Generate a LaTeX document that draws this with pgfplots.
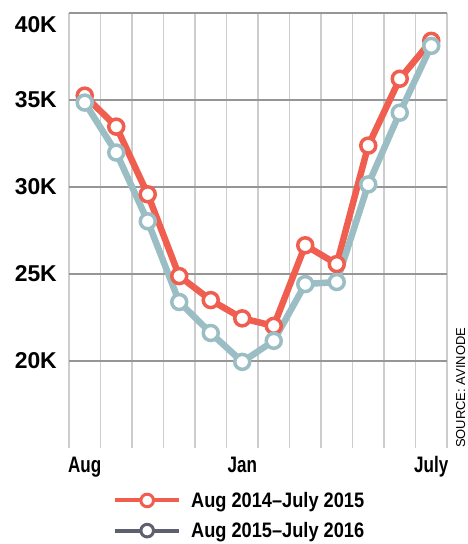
\documentclass[border=0pt]{standalone}
\usepackage{fontspec}
\setmainfont{Liberation Sans}
\newfontfamily\yfont{Liberation Sans}
\newfontfamily\xfont[FakeStretch=0.76]{Liberation Sans}
\newfontfamily\lfont[FakeStretch=0.87]{Liberation Sans}
\usepackage{pgfplots}
\pgfplotsset{compat=1.18}
\definecolor{cred}{RGB}{240,94,80}
\definecolor{cblue}{RGB}{155,190,196}
\definecolor{cslate}{RGB}{94,96,112}
\definecolor{hgrid}{RGB}{150,150,150}
\definecolor{vgrid}{RGB}{205,205,205}
\begin{document}
\begin{tikzpicture}
\useasboundingbox (-69bp,-96bp) rectangle (399bp,448bp);
\begin{axis}[
  scale only axis, width=378bp, height=435bp,
  xmin=0, xmax=12, ymin=15, ymax=40,
  clip=false,
  axis line style={draw=none},
  tick style={draw=none},
  xtick={0.5,5.5,11.5}, xticklabels={Aug,Jan,July},
  minor xtick={0,1,...,12},
  xminorgrids, minor x grid style={vgrid, line width=1.2bp},
  ytick={20,25,30,35}, yticklabels={20K,25K,30K,35K},
  ymajorgrids, major y grid style={hgrid, line width=1.3bp},
  extra y ticks={40}, extra y tick labels={40K},
  extra y tick style={grid=major, yticklabel style={yshift=-12bp}},
  yticklabel style={font=\yfont\bfseries\fontsize{23}{23}\selectfont, anchor=east, inner sep=0pt, xshift=-12bp},
  xticklabel style={font=\xfont\bfseries\fontsize{22.5}{22.5}\selectfont, anchor=base, inner sep=0pt, yshift=-24bp},
  legend image code/.code={\draw[line width=4bp,#1] (0bp,0bp) -- (64bp,0bp); \draw[line width=3bp,#1,fill=white] (32bp,0bp) circle (6.3bp);},
  legend style={at={(0.1164,-0.101)}, anchor=north west, draw=none, fill=none, inner sep=0pt, column sep=10bp, row sep=13.5bp, nodes={inner sep=0pt}, font=\lfont\bfseries\fontsize{21}{21}\selectfont, legend cell align=left},
]
\addplot[forget plot, cred, line width=6.5bp, mark=*, mark size=7.5bp, mark options={fill=white, draw=cred, line width=3.5bp, solid}] coordinates {
(0.5,35.25) (1.5,33.47) (2.5,29.58) (3.5,24.88) (4.5,23.5) (5.5,22.45) (6.5,22.02) (7.5,26.65) (8.5,25.57) (9.5,32.38) (10.5,36.22) (11.5,38.4)};
\addplot[forget plot, cblue, line width=6.5bp, mark=*, mark size=7.5bp, mark options={fill=white, draw=cblue, line width=3.5bp, solid}] coordinates {
(0.5,34.85) (1.5,31.98) (2.5,28.03) (3.5,23.39) (4.5,21.61) (5.5,19.95) (6.5,21.16) (7.5,24.42) (8.5,24.54) (9.5,30.15) (10.5,34.27) (11.5,38.11)};
\addlegendimage{cred}
\addlegendentry{Aug 2014–July 2015}
\addlegendimage{cslate}
\addlegendentry{Aug 2015–July 2016}
\node[rotate=90, anchor=base west, inner sep=0pt, font=\fontsize{13}{13}\selectfont] at ([xshift=18bp]rel axis cs:1,0) {SOURCE: AVINODE};
\end{axis}
\end{tikzpicture}
\end{document}
